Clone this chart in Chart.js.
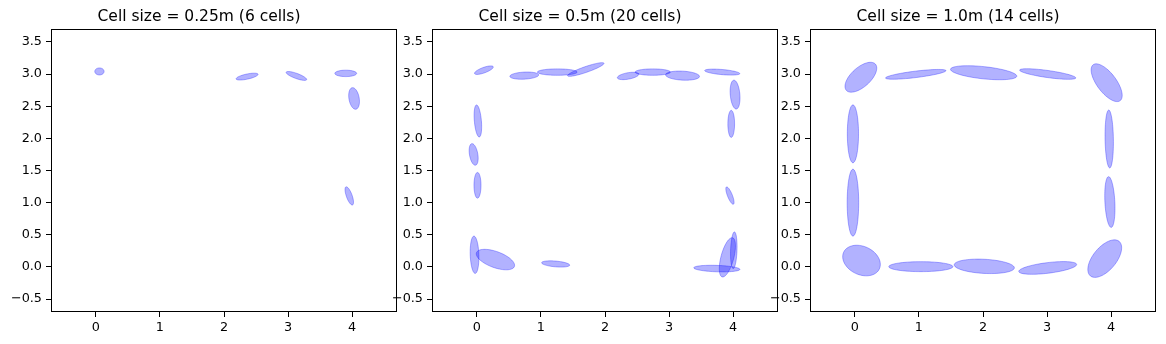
<!DOCTYPE html>
<html>
<head>
<meta charset="utf-8">
<script src="https://cdn.jsdelivr.net/npm/chart.js@4"></script>
<style>
  body { margin: 0; background: #fff; }
  canvas { position: absolute; top: 0; }
</style>
</head>
<body>
<canvas id="c1" width="402" height="344" style="left:1px"></canvas>
<canvas id="c2" width="402" height="344" style="left:382px"></canvas>
<canvas id="c3" width="402" height="344" style="left:760px"></canvas>
<script>
const titles = ['Cell size = 0.25m (6 cells)', 'Cell size = 0.5m (20 cells)', 'Cell size = 1.0m (14 cells)'];
const xTicks = [0, 1, 2, 3, 4];
const yTicks = [-0.5, 0, 0.5, 1, 1.5, 2, 2.5, 3, 3.5];

// ellipses: centre x / y, width, height (metres), angle (degrees)
const cx025 = [0.056, 2.36, 3.13, 3.90, 4.03, 3.955];
const cy025 = [3.04, 2.96, 2.97, 3.01, 2.62, 1.105];
const w025 = [0.145, 0.35, 0.34, 0.34, 0.34, 0.30];
const h025 = [0.11, 0.08, 0.08, 0.10, 0.16, 0.09];
const a025 = [0, 12, -20, 0, 100, 110];

const cx05 = [0.11, 0.74, 1.255, 1.70, 2.36, 2.745, 3.21, 3.83, 4.03, 3.97, 3.95, 3.91, 4.01, 3.745, 1.23, 0.29, -0.036, 0.016, -0.05, 0.01];
const cy05 = [3.06, 2.975, 3.03, 3.07, 2.97, 3.03, 2.975, 3.03, 2.68, 2.225, 1.11, 0.15, 0.26, -0.025, 0.047, 0.115, 0.19, 2.27, 1.75, 1.27];
const w05 = [0.31, 0.45, 0.62, 0.60, 0.34, 0.55, 0.53, 0.55, 0.45, 0.42, 0.29, 0.63, 0.57, 0.72, 0.44, 0.63, 0.58, 0.50, 0.34, 0.40];
const h05 = [0.085, 0.11, 0.10, 0.09, 0.10, 0.10, 0.14, 0.08, 0.15, 0.105, 0.075, 0.20, 0.10, 0.10, 0.09, 0.25, 0.135, 0.11, 0.13, 0.11];
const a05 = [20, 3, 0, 19, 10, 0, -3, -5, 95, 90, 112, 75, 88, -2, -5, -20, 92, 95, 100, 90];

const cx10 = [0.094, 0.95, 2.01, 3.01, 3.93, 3.97, 3.98, 3.90, 3.01, 2.02, 1.03, 0.104, -0.03, -0.03];
const cy10 = [2.95, 2.995, 3.02, 3.0, 2.865, 1.99, 1.01, 0.13, -0.015, 0.01, 0.005, 0.10, 1.0, 2.07];
const w10 = [0.61, 0.95, 1.04, 0.885, 0.70, 0.90, 0.79, 0.70, 0.91, 0.94, 1.0, 0.615, 1.04, 0.90];
const h10 = [0.30, 0.10, 0.19, 0.11, 0.30, 0.13, 0.155, 0.36, 0.165, 0.22, 0.155, 0.44, 0.18, 0.175];
const a10 = [42, 7, -6, -8, -53, 91, 93, 50, 7, -3, 0, -25, 90, 90];

const FONT = 'DejaVu Sans';

// draws each ellipse outline in data space, mapped through the chart scales
const ellipsePlugin = {
    id: 'ellipses',
    afterDatasetsDraw(chart, args, opts) {
        const ctx = chart.ctx;
        const xs = chart.scales.x, ys = chart.scales.y;
        const pts = chart.data.datasets[0].data;
        ctx.save();
        pts.forEach((p, i) => {
            const a = opts.angles[i] * Math.PI / 180;
            const rw = opts.widths[i] / 2, rh = opts.heights[i] / 2;
            ctx.beginPath();
            for (let k = 0; k <= 72; k++) {
                const t = k / 72 * 2 * Math.PI;
                const dx = rw * Math.cos(t), dy = rh * Math.sin(t);
                const x = p.x + dx * Math.cos(a) - dy * Math.sin(a);
                const y = p.y + dx * Math.sin(a) + dy * Math.cos(a);
                const px = xs.getPixelForValue(x), py = ys.getPixelForValue(y);
                if (k === 0) ctx.moveTo(px, py); else ctx.lineTo(px, py);
            }
            ctx.closePath();
            ctx.fillStyle = 'rgba(0, 0, 255, 0.3)';
            ctx.fill();
            ctx.strokeStyle = 'rgba(0, 0, 255, 0.3)';
            ctx.lineWidth = 1;
            ctx.stroke();
        });
        ctx.restore();
    }
};

// black frame round the plot area
const framePlugin = {
    id: 'frame',
    afterDraw(chart) {
        const a = chart.chartArea, ctx = chart.ctx;
        ctx.save();
        ctx.strokeStyle = '#000';
        ctx.lineWidth = 1;
        ctx.strokeRect(Math.round(a.left) + 0.5, Math.round(a.top) + 0.5, Math.round(a.right - a.left) - 1, Math.round(a.bottom - a.top) - 1);
        ctx.restore();
    }
};

function crearPanel(id, title, cx, cy, w, h, ang) {
    const tickFont = { family: FONT, size: 12.8 };
    const grid = { drawOnChartArea: false, drawTicks: true, tickLength: 5, color: '#000', lineWidth: 1 };
    return new Chart(document.getElementById(id), {
        type: 'scatter',
        data: {
            datasets: [{ data: cx.map((x, i) => ({ x: x, y: cy[i] })), pointRadius: 0 }]
        },
        options: {
            responsive: false,
            animation: false,
            events: [],
            layout: { padding: { left: 0, right: 6, top: 0, bottom: 0 } },
            plugins: {
                legend: { display: false },
                tooltip: { enabled: false },
                title: {
                    display: true, text: title, color: '#000',
                    font: { family: FONT, size: 15.5, weight: 'normal' },
                    padding: { top: 8, bottom: 2.4 }
                },
                ellipses: { widths: w, heights: h, angles: ang }
            },
            scales: {
                x: {
                    type: 'linear', min: -0.7, max: 4.7,
                    afterBuildTicks: s => { s.ticks = xTicks.map(v => ({ value: v })); },
                    afterFit: s => { s.height = 32; },
                    grid: grid, border: { display: false },
                    ticks: { color: '#000', font: tickFont, padding: 3, maxRotation: 0, callback: v => String(v) }
                },
                y: {
                    type: 'linear', min: -0.7, max: 3.7,
                    afterBuildTicks: s => { s.ticks = yTicks.map(v => ({ value: v })); },
                    afterFit: s => { s.width = 50; },
                    grid: grid, border: { display: false },
                    ticks: { color: '#000', font: tickFont, padding: 4, callback: v => v.toFixed(1).replace('-', '\u2212') }
                }
            }
        },
        plugins: [ellipsePlugin, framePlugin]
    });
}

crearPanel('c1', titles[0], cx025, cy025, w025, h025, a025);
crearPanel('c2', titles[1], cx05, cy05, w05, h05, a05);
crearPanel('c3', titles[2], cx10, cy10, w10, h10, a10);
</script>
</body>
</html>
